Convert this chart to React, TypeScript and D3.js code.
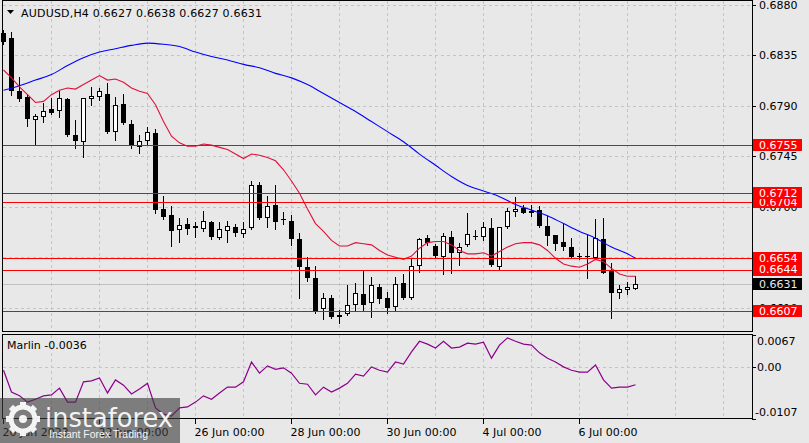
import React from 'react';
import * as d3 from 'd3';

// AUDUSD H4 bars (20 Jun 00:00 .. 7 Jul 04:00)
const opens = [
  0.6855, 0.6851, 0.6803, 0.6798, 0.6777, 0.678, 0.6787, 0.6785, 0.6796, 0.6764,
  0.6758, 0.6796, 0.6798, 0.6801, 0.6767, 0.6792, 0.6774, 0.6753, 0.6759, 0.6766,
  0.6698, 0.6693, 0.6679, 0.6685, 0.6683, 0.668, 0.6686, 0.6672, 0.6678, 0.6682,
  0.6676, 0.6681, 0.6719, 0.669, 0.6702, 0.6689, 0.6687, 0.6671, 0.6646, 0.6636,
  0.6609, 0.6619, 0.6603, 0.6604, 0.6612, 0.6622, 0.6614, 0.6628, 0.6619, 0.6611,
  0.6632, 0.6619, 0.6647, 0.6672, 0.6665, 0.6655, 0.6673, 0.6659, 0.6666, 0.6674,
  0.6673, 0.6681, 0.6646, 0.6682, 0.6695, 0.6699, 0.6694, 0.6697, 0.6683, 0.6675,
  0.6669, 0.6664, 0.6656, 0.6656, 0.6654, 0.6671, 0.6644, 0.6623, 0.6626, 0.6627,
];
const highs = [
  0.6858, 0.6856, 0.6816, 0.6801, 0.6783, 0.6793, 0.6797, 0.6803, 0.6797, 0.6777,
  0.6797, 0.6807, 0.6806, 0.681, 0.6798, 0.6801, 0.6777, 0.6764, 0.6771, 0.6769,
  0.671, 0.6701, 0.669, 0.669, 0.6686, 0.6696, 0.6687, 0.6686, 0.6687, 0.6685,
  0.6686, 0.6723, 0.6722, 0.671, 0.6719, 0.6695, 0.6693, 0.6677, 0.6655, 0.6647,
  0.6623, 0.6621, 0.6608, 0.663, 0.6632, 0.6644, 0.6637, 0.6631, 0.6624, 0.6637,
  0.664, 0.6654, 0.6672, 0.6675, 0.6667, 0.6677, 0.6678, 0.6668, 0.6694, 0.6679,
  0.6686, 0.669, 0.6682, 0.6699, 0.6709, 0.6702, 0.6702, 0.6701, 0.6692, 0.6675,
  0.6685, 0.6672, 0.6659, 0.6675, 0.6689, 0.669, 0.665, 0.663, 0.6633, 0.6638,
];
const lows = [
  0.6845, 0.68, 0.6794, 0.6772, 0.6756, 0.6776, 0.6783, 0.678, 0.6763, 0.6752,
  0.6744, 0.6791, 0.6795, 0.6766, 0.676, 0.6774, 0.6752, 0.6748, 0.6756, 0.6694,
  0.6689, 0.6665, 0.6669, 0.6676, 0.6673, 0.6678, 0.6671, 0.6671, 0.6669, 0.6674,
  0.6673, 0.668, 0.6689, 0.6682, 0.668, 0.6685, 0.6666, 0.6619, 0.6634, 0.6605,
  0.66, 0.6601, 0.6596, 0.6603, 0.6607, 0.6608, 0.6602, 0.6614, 0.6605, 0.6608,
  0.6618, 0.6618, 0.6642, 0.6666, 0.6655, 0.664, 0.6641, 0.6648, 0.6665, 0.6671,
  0.667, 0.6647, 0.6644, 0.6681, 0.6692, 0.6694, 0.6692, 0.6682, 0.6666, 0.6661,
  0.6661, 0.6655, 0.6653, 0.6636, 0.6653, 0.6641, 0.6601, 0.6619, 0.6622, 0.6627,
];
const closes = [
  0.6847, 0.6803, 0.6796, 0.6778, 0.6781, 0.6785, 0.6784, 0.6797, 0.6764, 0.6759,
  0.6797, 0.6799, 0.6803, 0.6767, 0.6791, 0.6775, 0.6754, 0.6759, 0.6767, 0.6697,
  0.6691, 0.6678, 0.6684, 0.668, 0.6681, 0.6687, 0.6673, 0.668, 0.6683, 0.6677,
  0.668, 0.6719, 0.669, 0.6701, 0.6686, 0.6688, 0.6671, 0.6646, 0.6636, 0.6606,
  0.6619, 0.6602, 0.6602, 0.6612, 0.6623, 0.6612, 0.663, 0.6618, 0.661, 0.6631,
  0.6619, 0.6647, 0.6671, 0.6668, 0.6656, 0.6674, 0.6659, 0.6664, 0.6676, 0.6673,
  0.6682, 0.6648, 0.6682, 0.6696, 0.6698, 0.6694, 0.6696, 0.6683, 0.6674, 0.6667,
  0.6664, 0.6655, 0.6656, 0.6655, 0.6672, 0.6641, 0.6623, 0.6627, 0.6628, 0.6631,
];

// fast MA (red), one value per bar
const fastMa = [
  0.6822, 0.6815, 0.6807, 0.68, 0.6793, 0.6794, 0.68, 0.6804, 0.6806, 0.6805,
  0.6809, 0.6813, 0.6817, 0.6813, 0.6814, 0.6811, 0.6806, 0.6803, 0.6801, 0.6791,
  0.6776, 0.6763, 0.6757, 0.6754, 0.6754, 0.6756, 0.6755, 0.6753, 0.6751, 0.6747,
  0.6743, 0.6747, 0.6746, 0.6744, 0.6741, 0.6733, 0.6723, 0.6712, 0.6698, 0.6685,
  0.6678, 0.667, 0.6665, 0.6665, 0.6668, 0.6667, 0.6666, 0.6661, 0.6657, 0.6655,
  0.6653, 0.6656, 0.6663, 0.6668, 0.6669, 0.6669, 0.6666, 0.6661, 0.6658, 0.6658,
  0.6659, 0.6656, 0.666, 0.6664, 0.6667, 0.6668, 0.6668, 0.6666, 0.6661, 0.6654,
  0.6649, 0.6647, 0.6646, 0.6649, 0.6653, 0.6651, 0.6645, 0.664, 0.6638, 0.6638,
];

// slow MA (blue), read every second bar: [bar, price]
const slowMa: [number, number][] = [
  [0, 0.6804], [2, 0.6808], [4, 0.6813], [6, 0.6818], [8, 0.6826], [10, 0.6833],
  [12, 0.6838], [14, 0.6841], [16, 0.6844], [18, 0.6846], [20, 0.6845], [22, 0.6843],
  [24, 0.6838], [26, 0.6834], [28, 0.6831], [30, 0.6827], [32, 0.6824], [34, 0.6819],
  [36, 0.6815], [38, 0.6809], [40, 0.6801], [42, 0.6793], [44, 0.6785], [46, 0.6776],
  [48, 0.6767], [50, 0.6758], [52, 0.6747], [54, 0.6737], [56, 0.6727], [58, 0.6719],
  [60, 0.6714], [62, 0.6709], [64, 0.6702], [66, 0.6697], [68, 0.6692], [70, 0.6685],
  [72, 0.6678], [74, 0.6672], [76, 0.6664], [78, 0.6658], [79, 0.6654],
];

// Marlin oscillator, one value per bar
const marlin = [
  -0.0006, -0.0051, -0.0059, -0.0072, -0.0066, -0.0059, -0.0057, -0.0043, -0.0072, -0.0072,
  -0.003, -0.0028, -0.0022, -0.0053, -0.0026, -0.0037, -0.0055, -0.0045, -0.0033, -0.0084,
  -0.0097, -0.0101, -0.0084, -0.0082, -0.0072, -0.0059, -0.0066, -0.0053, -0.0041, -0.0041,
  -0.003, 0.0011, -0.0012, 0.0003, -0.0004, -0.0001, -0.0012, -0.0033, -0.0035, -0.0057,
  -0.0041, -0.0051, -0.0043, -0.0033, -0.0014, -0.0018, 0.0001, -0.0006, -0.001, 0.0011,
  0.0007, 0.0032, 0.0054, 0.0048, 0.004, 0.0054, 0.004, 0.0042, 0.005, 0.0048,
  0.0052, 0.0019, 0.0046, 0.0061, 0.0054, 0.0048, 0.0046, 0.003, 0.0019, 0.0011,
  0.0001, -0.0006, -0.001, -0.001, 0.0005, -0.0026, -0.0043, -0.0041, -0.0041, -0.0036,
];

const levels = [0.6755, 0.6704, 0.6712, 0.6654, 0.6644, 0.6607];
const lastPrice = 0.6631;
const priceTicks = [0.688, 0.6835, 0.679, 0.6745, 0.67, 0.6655, 0.661];
const marlinTicks = [0.0067, 0, -0.0107];
const dateBars = [0, 12, 24, 36, 48, 60, 72];
const dateLabels = ['20 Jun 2023', '22 Jun 00:00', '26 Jun 00:00', '28 Jun 00:00', '30 Jun 00:00', '4 Jul 00:00', '6 Jul 00:00'];

const W = 809;
const H = 443;
const L = 3;
const R = 752;
const font = 'DejaVu Sans, sans-serif';
const grid = '#c4c4c4';

const px = (v: number) => Math.round(v) + 0.5;

const App: React.FC = () => {
  const x = d3.scaleLinear().domain([0, 1]).range([3.5, 11.5]);
  const y = d3.scaleLinear().domain([0.688, 0.6607]).range([5, 311]);
  const ym = d3.scaleLinear().domain([0.0067, -0.0107]).range([335, 419]);

  const fastLine = d3.line<number>().x((_, i) => x(i)).y((d) => y(d));
  const slowLine = d3.line<[number, number]>().x((d) => x(d[0])).y((d) => y(d[1])).curve(d3.curveMonotoneX);
  const marlinLine = d3.line<number>().x((_, i) => x(i)).y((d) => ym(d));

  const vGrid = d3.range(6, 91, 6).map((k) => x(k));

  const gearTeeth = d3.range(8).map((i) => i * 45);

  return (
    <svg width={W} height={H} style={{ position: 'absolute', left: 0, top: 0, background: '#e8e8e8' }} fontFamily={font} fontSize={11}>
      <rect width={W} height={H} fill="#e8e8e8" />

      {/* grid */}
      <g stroke={grid} strokeDasharray="3,3" strokeWidth={1} shapeRendering="crispEdges">
        {vGrid.map((gx, i) => (
          <g key={i}>
            <line x1={gx} x2={gx} y1={1} y2={331} />
            <line x1={gx} x2={gx} y1={335} y2={419} />
          </g>
        ))}
        {priceTicks.map((t) => (
          <line key={t} x1={L} x2={R} y1={px(y(t))} y2={px(y(t))} />
        ))}
        <line x1={L} x2={R} y1={px(ym(0))} y2={px(ym(0))} />
      </g>

      {/* last price line */}
      <line x1={L} x2={R} y1={px(y(lastPrice))} y2={px(y(lastPrice))} stroke="#c0c0c0" shapeRendering="crispEdges" />

      {/* candles */}
      <g shapeRendering="crispEdges">
        {opens.map((o, i) => {
          const c = closes[i];
          const cx = x(i);
          const top = Math.round(y(Math.max(o, c)));
          const bot = Math.round(y(Math.min(o, c)));
          const bull = c >= o;
          return (
            <g key={i}>
              <line x1={cx} x2={cx} y1={Math.round(y(highs[i]))} y2={Math.round(y(lows[i])) + 1} stroke="#000" />
              {bull ? (
                bot - top > 1 ? (
                  <rect x={cx - 2} y={top + 0.5} width={4} height={bot - top - 1} fill="#fff" stroke="#000" />
                ) : (
                  <line x1={cx - 2.5} x2={cx + 2.5} y1={top + 0.5} y2={top + 0.5} stroke="#000" />
                )
              ) : (
                <rect x={cx - 2.5} y={top} width={5} height={Math.max(1, bot - top)} fill="#000" />
              )}
            </g>
          );
        })}
      </g>

      {/* moving averages */}
      <path d={slowLine(slowMa) || ''} fill="none" stroke="#0000ff" strokeWidth={1.1} />
      <path d={fastLine(fastMa) || ''} fill="none" stroke="#e0103a" strokeWidth={1.1} />

      {/* horizontal levels */}
      <g shapeRendering="crispEdges">
        {levels.map((lv) => (
          <line key={lv} x1={L} x2={R} y1={px(y(lv))} y2={px(y(lv))} stroke="#ff0000" strokeWidth={1} />
        ))}
      </g>

      {/* Marlin */}
      <path d={marlinLine(marlin) || ''} fill="none" stroke="#8b008b" strokeWidth={1.2} />

      {/* frames */}
      <g fill="none" stroke="#000" shapeRendering="crispEdges">
        <rect x={L - 0.5} y={0.5} width={R - L + 1} height={331} />
        <rect x={L - 0.5} y={334.5} width={R - L + 1} height={84} />
      </g>

      {/* price axis */}
      {priceTicks.map((t) => (
        <g key={t}>
          <line x1={R} x2={R + 4} y1={px(y(t))} y2={px(y(t))} stroke="#000" shapeRendering="crispEdges" />
          <text x={759} y={y(t)} dy="0.36em" fill="#000">{t.toFixed(4)}</text>
        </g>
      ))}
      {levels.map((lv) => (
        <g key={lv}>
          <rect x={753} y={Math.round(y(lv)) - 6} width={49} height={12} fill="#ff0000" />
          <text x={759} y={y(lv)} dy="0.36em" fill="#fff">{lv.toFixed(4)}</text>
        </g>
      ))}
      <rect x={753} y={Math.round(y(lastPrice)) - 6} width={49} height={12} fill="#000" />
      <text x={759} y={y(lastPrice)} dy="0.36em" fill="#e8e8e8">{lastPrice.toFixed(4)}</text>

      {/* Marlin axis */}
      {marlinTicks.map((t, i) => {
        const ty = i === 0 ? ym(t) + 6 : i === 2 ? ym(t) - 7 : ym(t);
        return (
          <g key={t}>
            <line x1={R} x2={R + 4} y1={px(ym(t))} y2={px(ym(t))} stroke="#000" shapeRendering="crispEdges" />
            <text x={t < 0 ? 755 : 757} y={ty} dy="0.36em" fill="#000">{t === 0 ? '0.00' : t.toFixed(4)}</text>
          </g>
        );
      })}

      {/* time axis */}
      {dateBars.map((k, i) => (
        <g key={k}>
          <line x1={x(k)} x2={x(k)} y1={419} y2={424} stroke="#000" shapeRendering="crispEdges" />
          <text x={x(k) - 1} y={436} fill="#000">{dateLabels[i]}</text>
        </g>
      ))}

      {/* titles */}
      <polygon points="7,10 14,10 10.5,14" fill="#000" />
      <text x={21} y={17} fill="#000" textLength={241} lengthAdjust="spacing">AUDUSD,H4  0.6627 0.6638 0.6627 0.6631</text>
      <text x={7} y={349} fill="#000">Marlin -0.0036</text>

      {/* watermark */}
      <g>
        <rect x={0} y={398} width={180} height={45} fill="#3c3c3c" opacity={0.62} />
        <g transform="translate(23,419)" fill="#fff" opacity={0.92}>
          {gearTeeth.map((a) => (
            <rect key={a} x={-3} y={-17} width={6} height={7} transform={`rotate(${a})`} />
          ))}
          <circle r={12} fill="none" stroke="#fff" strokeWidth={5} />
          <circle r={4} />
        </g>
        <text x={45} y={427} fill="#fff" fontSize={26} opacity={0.92} textLength={128} lengthAdjust="spacingAndGlyphs">instaforex</text>
        <text x={49} y={438} fill="#fff" fontSize={10} opacity={0.92} fontFamily="Liberation Sans, sans-serif" textLength={99} lengthAdjust="spacingAndGlyphs">Instant Forex Trading</text>
      </g>
    </svg>
  );
};

export default App;
